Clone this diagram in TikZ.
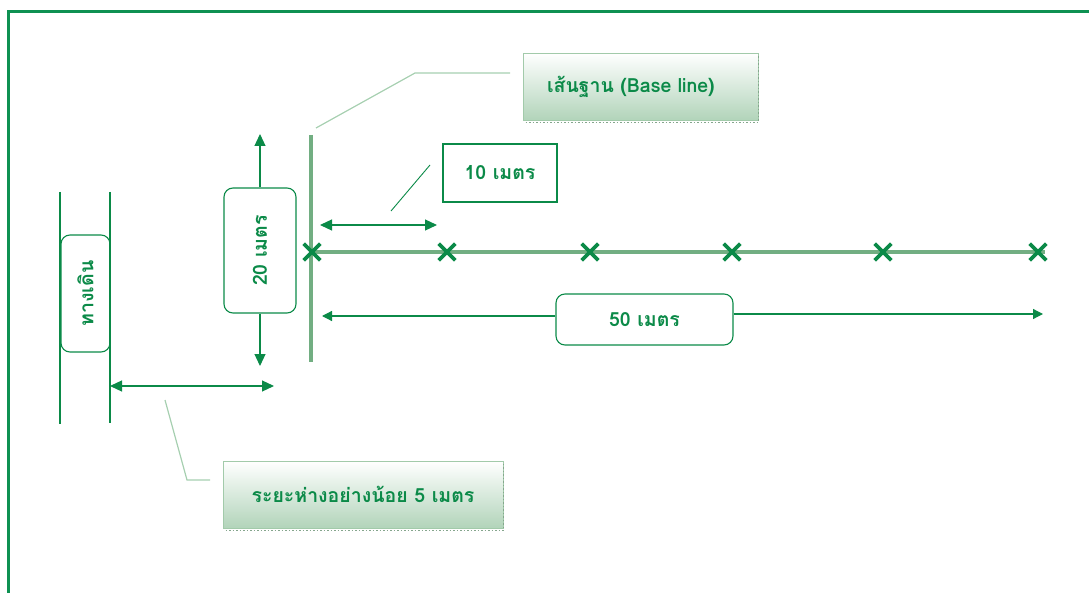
\documentclass[tikz,border=0pt]{standalone}
\usepackage{fontspec}
\newfontfamily\thaifont[Script=Thai]{Loma}
\usetikzlibrary{arrows.meta,shapes.misc}
\definecolor{dgreen}{HTML}{0B8A48}
\definecolor{framegreen}{HTML}{0E9152}
\definecolor{basegreen}{HTML}{72AE82}
\definecolor{leadgreen}{HTML}{A6CFB0}
\definecolor{boxgreen}{HTML}{B2D4BA}
\definecolor{boxedge}{HTML}{A2CAAA}
\tikzset{
  lbl/.style={font=\thaifont\bfseries\fontsize{19.5}{22}\selectfont, text=dgreen, inner sep=0pt},
  callout/.style={lbl, draw=boxedge, line width=0.8pt, top color=white, bottom color=boxgreen},
  plainbox/.style={lbl, draw=dgreen, line width=1.3pt},
  roundbox/.style={lbl, draw=dgreen, line width=1.1pt, rounded corners=9pt},
  baseln/.style={draw=basegreen, line width=4pt},
  xmark/.style={draw=dgreen, cross out, line width=3.6pt, minimum size=13pt, inner sep=0pt},
  dimarrow/.style={draw=dgreen, line width=1.2pt, -{Triangle[length=12pt,width=11pt]}},
  dimboth/.style={draw=dgreen, line width=1.2pt, {Triangle[length=12pt,width=11pt]}-{Triangle[length=12pt,width=11pt]}},
  smallarrow/.style={draw=dgreen, line width=1.2pt, -{Triangle[length=10pt,width=10pt]}},
  thinline/.style={draw=dgreen, line width=1.2pt},
  leader/.style={draw=leadgreen, line width=1.2pt},
  shadowdots/.style={draw=leadgreen!80!black, line width=1.5pt, dotted},
}
\begin{document}
\begin{tikzpicture}[x=1pt,y=-1pt]
\useasboundingbox (0,0) rectangle (1089,593);
% frame
\draw[framegreen, line width=2.6pt] (8.5,593) -- (8.5,11.5) -- (1089,11.5);

% base lines
\coordinate (vt) at (311,135);
\coordinate (vb) at (311,362);
\coordinate (hl) at (311,252);
\coordinate (hr) at (1045,252);
\draw[baseln] (vt) -- (vb);
\draw[baseln] (hl) -- (hr);

% X marks
\foreach \n/\x in {1/312,2/447,3/590,4/732,5/883,6/1038}
  \node[xmark] (x\n) at (\x,252) {};

% Base line callout
\node[callout, minimum width=235pt, minimum height=67pt, text width=215pt, align=left] (bl) at (640.5,86.5) {\hspace*{14pt}เส้นฐาน (Base line)};
\draw[shadowdots] ([xshift=3pt,yshift=-2pt]bl.south west) -- ([yshift=-2pt]bl.south east) -- ([yshift=-2pt]bl.south east |- bl.north east);
\coordinate (bl1) at (316,128);
\coordinate (bl2) at (415,73);
\coordinate (bl3) at (510,73);
\draw[leader] (bl1) -- (bl2) -- (bl3);

% 10 m
\node[plainbox, minimum width=114pt, minimum height=58pt] (ten) at (500,173) {10 เมตร};
\coordinate (t1) at (391,211);
\coordinate (t2) at (430,165);
\draw[thinline, line width=0.9pt] (t1) -- (t2);
\coordinate (a10l) at (320,225);
\coordinate (a10r) at (437,225);
\draw[dimboth] (a10l) -- (a10r);

% 20 m
\node[roundbox, minimum width=125pt, minimum height=72pt, rotate=90] (twenty) at (260,250.5) {20 เมตร};
\coordinate (a20t) at (260,134);
\coordinate (a20b) at (260,366);
\draw[dimarrow] (twenty.east) -- (a20t);
\draw[dimarrow] (twenty.west) -- (a20b);

% walkway
\coordinate (w1t) at (60,192);
\coordinate (w1b) at (60,424);
\coordinate (w2t) at (110,192);
\coordinate (w2b) at (110,423);
\draw[thinline] (w1t) -- (w1b);
\draw[thinline] (w2t) -- (w2b);
\node[roundbox, minimum width=117pt, minimum height=49pt, rotate=90] (walk) at (85.5,293.5) {ทางเดิน};

% 5 m
\coordinate (a5l) at (110,386);
\coordinate (a5r) at (274,386);
\draw[dimboth] (a5l) -- (a5r);
\node[callout, minimum width=280pt, minimum height=67pt] (five) at (363,494.5) {ระยะห่างอย่างน้อย 5 เมตร};
\draw[shadowdots] ([xshift=3pt,yshift=-2pt]five.south west) -- ([yshift=-2pt]five.south east) -- ([yshift=-2pt]five.south east |- five.north east);
\coordinate (f1) at (165,400);
\coordinate (f2) at (187,480);
\coordinate (f3) at (210,480);
\draw[leader] (f1) -- (f2) -- (f3);

% 50 m
\node[roundbox, minimum width=177pt, minimum height=51pt] (fifty) at (644.5,319.5) {50 เมตร};
\coordinate (a50l) at (322,316);
\coordinate (a50r) at (1043,314);
\draw[smallarrow] (fifty.west |- a50l) -- (a50l);
\draw[smallarrow] (fifty.east |- a50r) -- (a50r);
\end{tikzpicture}
\end{document}
